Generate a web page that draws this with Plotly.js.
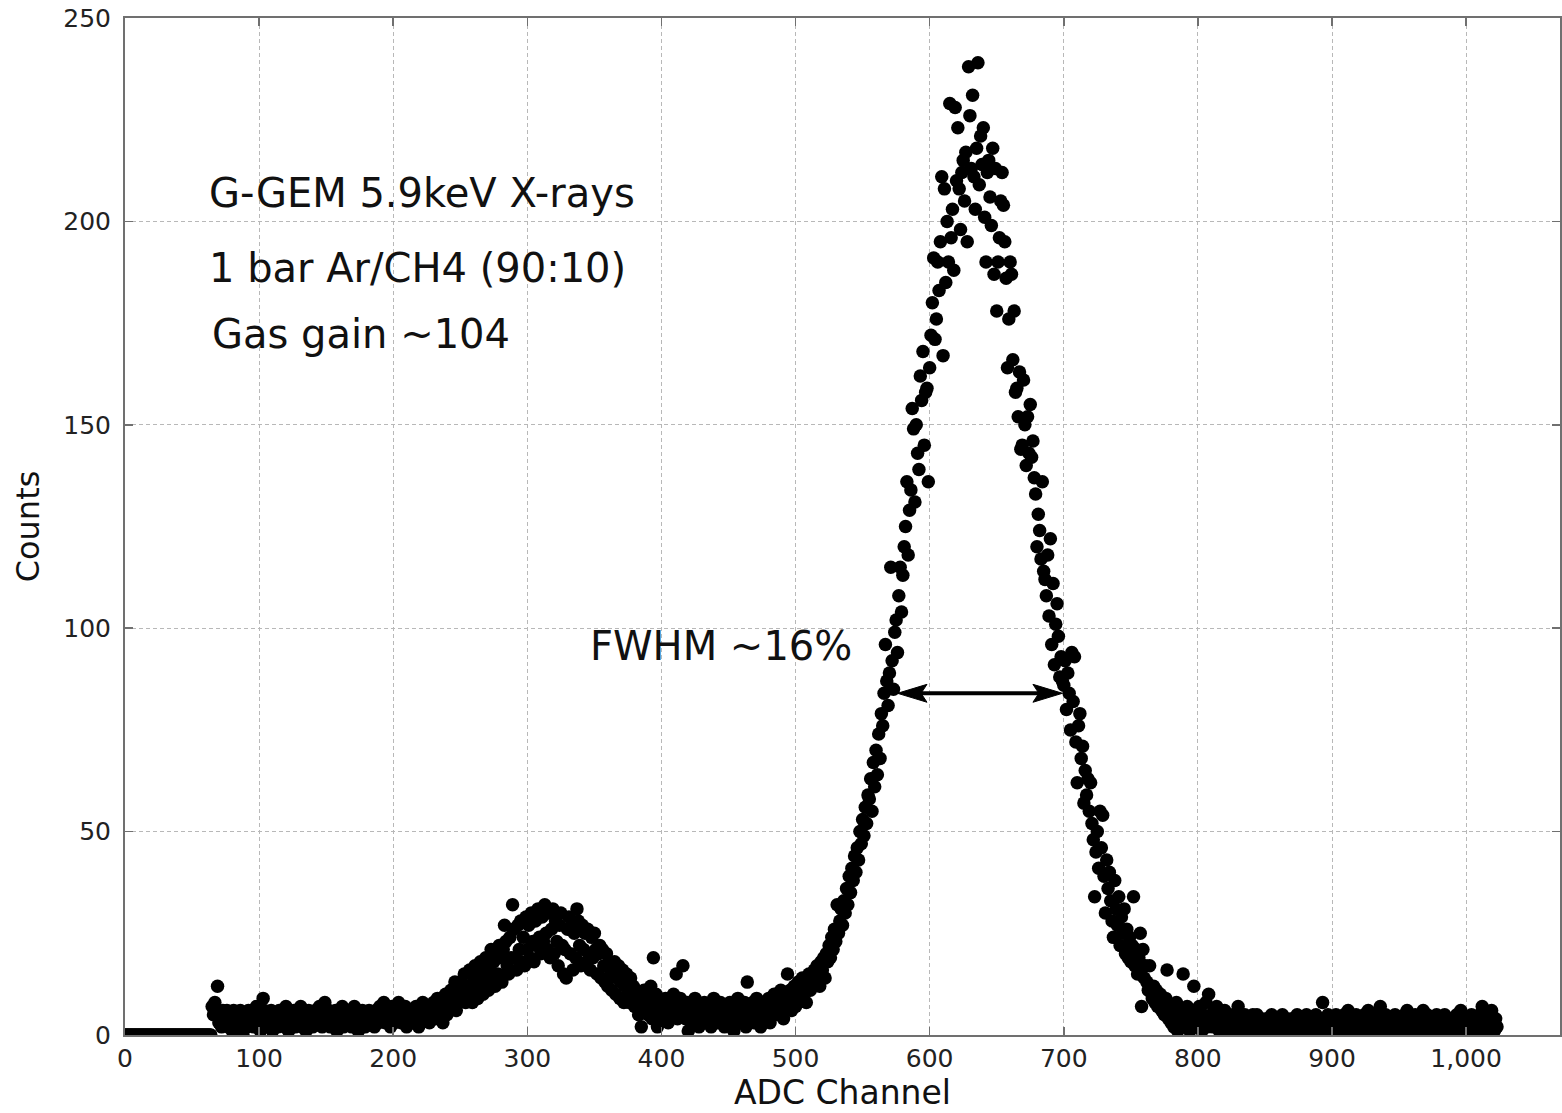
<!DOCTYPE html>
<html>
<head>
<meta charset="utf-8">
<script src="https://cdn.plot.ly/plotly-3.0.1.min.js"></script>
<style>html,body{margin:0;padding:0;background:#fff;}#chart{width:1562px;height:1113px;}</style>
</head>
<body>
<div id="chart"></div>
<script>
// Counts per ADC channel, starting at channel 0, one value per channel
const firstChannel = 0;
const counts = [
0,0,0,0,0,0,0,0,0,0,
0,0,0,0,0,0,0,0,0,0,
0,0,0,0,0,0,0,0,0,0,
0,0,0,0,0,0,0,0,0,0,
0,0,0,0,0,0,0,0,0,0,
0,0,0,0,0,0,0,0,0,0,
0,0,0,0,0,7,5,8,6,12,
3,5,2,6,4,3,6,2,5,4,
1,6,3,5,2,4,6,3,0,5,
4,2,6,3,5,4,2,5,7,3,
4,1,5,9,6,3,5,2,4,6,
1,4,3,5,2,6,4,3,5,2,
7,4,1,5,3,4,6,2,5,3,
4,7,2,5,3,1,4,6,3,5,
2,4,6,3,5,7,4,2,5,8,
3,4,6,2,5,3,4,6,1,5,
3,4,7,2,4,5,3,6,4,2,
5,7,3,4,1,5,4,6,3,2,
5,4,6,3,5,4,2,6,5,3,
7,4,5,8,3,5,6,4,2,7,
5,3,6,4,8,5,3,6,4,7,
2,5,6,4,3,6,5,7,4,2,
6,5,8,4,6,5,7,3,6,5,
8,4,6,9,5,8,6,3,7,10,
5,9,6,11,7,10,13,6,11,8,
13,9,12,15,8,12,10,16,11,8,
14,17,11,9,15,18,12,10,16,19,
13,11,17,21,14,18,12,20,15,22,
19,13,21,27,23,17,15,24,19,32,
26,19,16,27,21,28,18,24,17,29,
21,27,19,30,23,18,28,22,31,24,
20,29,23,32,25,21,30,19,26,31,
20,28,23,17,27,30,22,15,21,14,
26,29,20,27,16,25,19,31,28,22,
17,27,21,25,18,26,20,16,24,19,
25,21,15,20,22,14,21,17,13,20,
12,18,15,11,16,18,10,14,17,9,
13,16,8,12,15,10,8,14,9,12,
7,11,9,5,10,2,8,11,6,9,
5,8,12,4,19,7,10,2,5,8,
5,7,4,9,6,3,8,5,7,10,
6,15,4,7,9,5,17,6,4,8,
1,6,3,7,5,9,4,6,2,7,
5,3,8,6,4,7,5,2,6,9,
4,7,3,5,8,4,6,2,7,5,
3,8,6,4,1,6,5,9,3,7,
4,6,8,2,13,5,7,4,8,3,
6,9,5,7,2,6,8,4,7,5,
9,3,6,8,10,5,7,9,6,11,
8,4,10,7,15,8,11,6,9,12,
7,10,13,9,11,14,10,12,8,13,
15,11,14,12,16,13,17,15,12,18,
16,19,14,20,18,22,19,24,21,26,
23,32,25,28,31,27,33,30,36,32,
39,35,41,38,44,40,46,43,50,47,
53,49,56,52,59,58,63,55,67,61,
70,64,74,68,79,76,84,96,87,81,
89,115,92,85,99,102,94,108,115,104,
113,120,125,136,118,129,134,154,149,131,
150,143,139,162,156,168,145,158,159,136,
164,172,180,191,171,176,190,183,195,211,
167,208,185,200,190,229,196,203,188,228,
210,223,208,198,212,215,205,217,195,238,
226,213,231,211,203,218,239,209,221,214,
223,201,190,212,215,206,199,218,187,213,
178,190,196,205,212,204,195,186,164,176,
190,187,166,178,158,159,152,163,144,145,
161,150,140,152,143,155,142,146,137,133,
120,128,124,117,136,114,112,108,118,103,
122,96,111,91,101,106,98,88,93,87,
86,92,80,89,84,75,94,82,93,72,
62,76,79,68,71,57,65,59,63,55,
62,52,48,34,45,50,41,55,46,54,
39,30,43,36,40,33,28,24,38,31,
27,34,22,29,25,31,20,26,19,24,
18,22,34,17,21,15,19,25,7,21,
14,17,13,11,17,12,9,12,8,11,
7,9,10,6,8,5,9,16,4,7,
3,6,2,5,8,1,4,6,3,15,
5,2,7,4,1,6,3,12,5,2,
4,7,3,1,5,4,8,2,10,3,
5,2,6,4,7,3,1,5,4,2,
6,3,5,1,4,2,5,3,0,4,
7,2,4,3,1,5,2,4,3,0,
3,5,2,1,5,3,0,4,2,3,
1,4,2,3,0,5,2,1,3,4,
2,0,3,5,1,2,4,3,1,2,
4,2,0,3,5,1,2,4,3,0,
2,5,3,1,4,2,0,3,5,2,
1,3,4,8,2,0,3,5,1,2,
4,3,1,5,2,0,4,3,2,5,
1,3,6,2,4,0,3,1,5,2,
3,4,0,2,5,1,3,6,2,4,
1,3,5,2,0,4,7,3,1,2,
5,3,1,4,2,0,3,5,2,1,
4,2,3,0,5,1,6,3,2,4,
1,3,5,2,0,4,3,1,6,2,
3,5,1,2,4,0,3,2,5,1,
2,4,3,0,5,1,3,2,4,1,
3,0,2,5,1,4,6,2,3,1,
4,2,0,3,5,1,2,4,3,0,
5,3,7,2,4,1,3,5,2,6,
3,1,4,2
];

// Axis settings
const xRange = [0, 1070];
const yRange = [0, 250];
const xTickStep = 100;
const yTickStep = 50;

// Text labels
const infoLines = ["G-GEM 5.9keV X-rays", "1 bar Ar/CH4 (90:10)", "Gas gain ~104"];
const infoX = [61, 61, 63.4];
const infoY = [207, 188.5, 172.3];
const fwhmLabel = "FWHM ~16%";
const fwhmLabelPos = [345, 95.6];
// FWHM arrow: from left edge to right edge at half maximum
const fwhmLeft = 576, fwhmRight = 699, fwhmLevel = 84;
const headLen = 22, headHalf = 2.2;

const FONT = "DejaVu Sans, Arial, sans-serif";

const trace = {
  type: "scatter",
  mode: "markers",
  x0: firstChannel,
  dx: 1,
  y: counts,
  marker: {color: "#000", size: 13.5, line: {width: 0}},
  cliponaxis: true,
  hoverinfo: "x+y",
  showlegend: false
};

const axisCommon = {
  showline: true, linecolor: "#707070", linewidth: 2, mirror: "ticks",
  ticks: "inside", ticklen: 8, tickwidth: 1.5, tickcolor: "#707070",
  showgrid: true, gridcolor: "#b8b8b8", gridwidth: 1, griddash: "4px,3px",
  zeroline: false,
  tickfont: {family: FONT, size: 25, color: "#222"}
};

const annotations = infoLines.map((t, i) => ({
  text: t, x: infoX[i], y: infoY[i], xref: "x", yref: "y",
  xanchor: "left", yanchor: "middle", showarrow: false,
  font: {family: FONT, size: 40, color: "#111"}
}));
annotations.push({
  text: fwhmLabel, x: fwhmLabelPos[0], y: fwhmLabelPos[1], xref: "x", yref: "y",
  xanchor: "left", yanchor: "middle", showarrow: false,
  font: {family: FONT, size: 40, color: "#111"}
});

const shapes = [
  {type: "line", xref: "x", yref: "y", x0: fwhmLeft + headLen * 0.6, x1: fwhmRight - headLen * 0.6,
   y0: fwhmLevel, y1: fwhmLevel, line: {color: "#000", width: 4}},
  {type: "path", xref: "x", yref: "y",
   path: `M ${fwhmLeft},${fwhmLevel} L ${fwhmLeft + headLen},${fwhmLevel + headHalf} L ${fwhmLeft + headLen * 0.8},${fwhmLevel} L ${fwhmLeft + headLen},${fwhmLevel - headHalf} Z`,
   fillcolor: "#000", line: {color: "#000", width: 1}},
  {type: "path", xref: "x", yref: "y",
   path: `M ${fwhmRight},${fwhmLevel} L ${fwhmRight - headLen},${fwhmLevel + headHalf} L ${fwhmRight - headLen * 0.8},${fwhmLevel} L ${fwhmRight - headLen},${fwhmLevel - headHalf} Z`,
   fillcolor: "#000", line: {color: "#000", width: 1}}
];

const layout = {
  width: 1562, height: 1113,
  margin: {l: 125, r: 2, t: 18, b: 78},
  paper_bgcolor: "#fff", plot_bgcolor: "#fff",
  font: {family: FONT, color: "#111"},
  xaxis: Object.assign({}, axisCommon, {
    range: xRange, dtick: xTickStep, tick0: 0, tickformat: ",d",
    title: {text: "ADC Channel", font: {family: FONT, size: 33, color: "#111"}, standoff: 2}
  }),
  yaxis: Object.assign({}, axisCommon, {
    range: yRange, dtick: yTickStep, tick0: 0, ticklabelstandoff: 7,
    title: {text: "Counts", font: {family: FONT, size: 32, color: "#111"}, standoff: 14}
  }),
  annotations: annotations,
  shapes: shapes,
  showlegend: false
};

Plotly.newPlot("chart", [trace], layout, {displayModeBar: false, staticPlot: true});
</script>
</body>
</html>
